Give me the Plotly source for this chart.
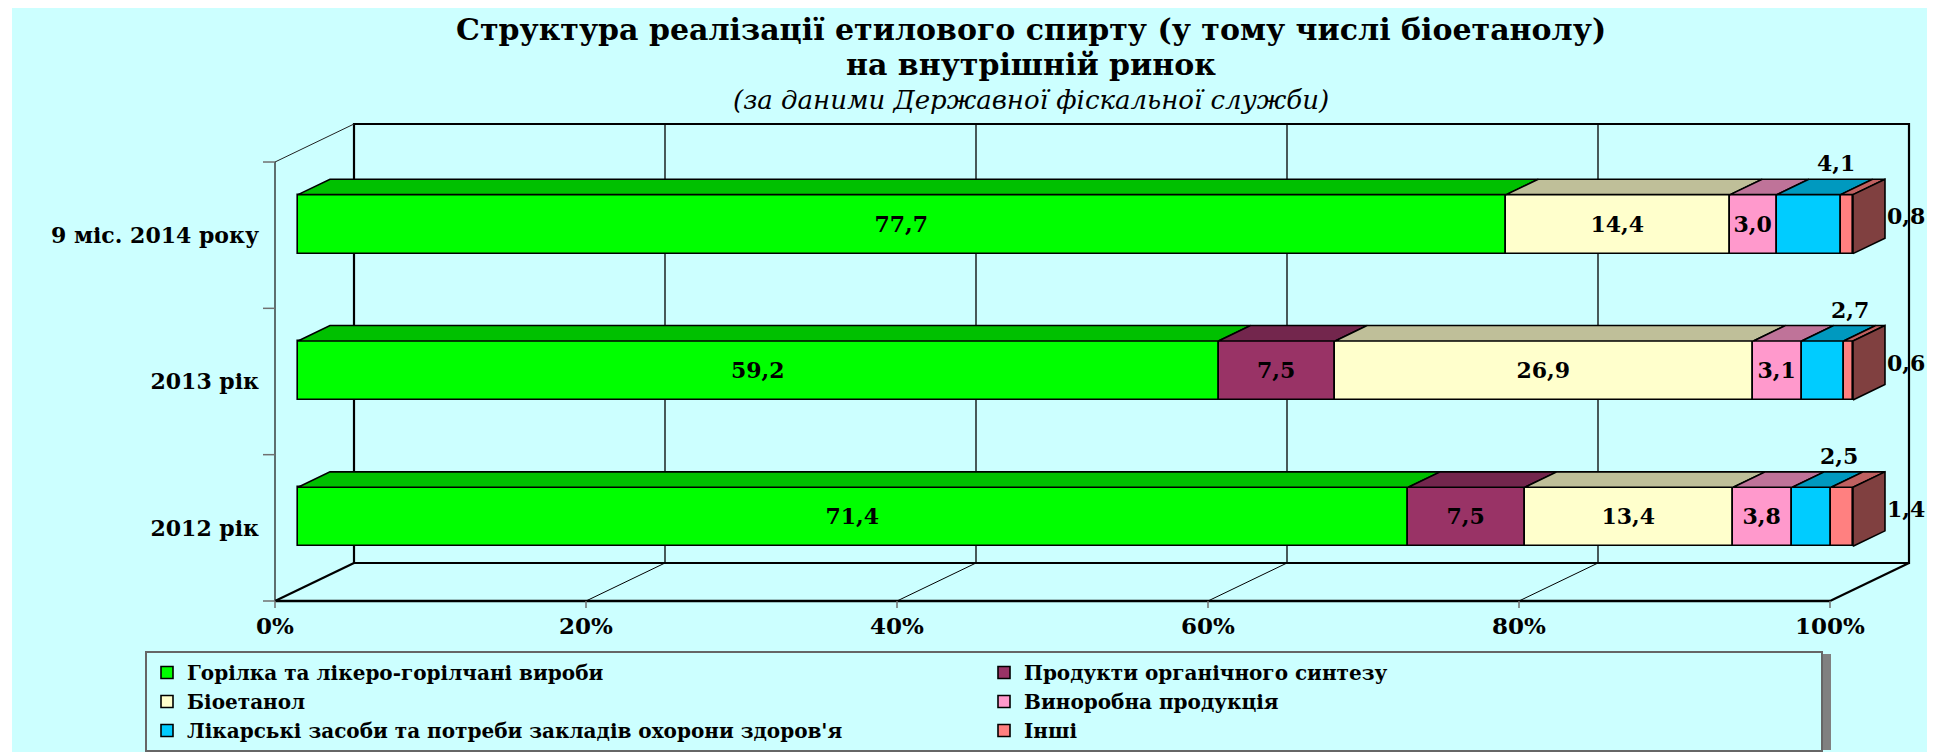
import plotly.graph_objects as go

# ---------------- data ----------------
categories = ["2012 рік", "2013 рік", "9 міс. 2014 року"]
series_names = [
    "Горілка та лікеро-горілчані вироби",
    "Продукти органічного синтезу",
    "Біоетанол",
    "Виноробна продукція",
    "Лікарські засоби та потреби закладів охорони здоров'я",
    "Інші",
]
vodka = [71.4, 59.2, 77.7]
organic = [7.5, 7.5, 0.0]
bioethanol = [13.4, 26.9, 14.4]
wine = [3.8, 3.1, 3.0]
medical = [2.5, 2.7, 4.1]
other = [1.4, 0.6, 0.8]
x_ticks = [0, 20, 40, 60, 80, 100]
x_tick_labels = ["0%", "20%", "40%", "60%", "80%", "100%"]

series_values = [vodka, organic, bioethanol, wine, medical, other]

# ---------------- styles ----------------
front_colors = ["#00FF00", "#993366", "#FFFFCC", "#FF99CC", "#00CCFF", "#FF8080"]
top_colors = ["#00C000", "#73264D", "#BFBF99", "#BF7399", "#0099BF", "#BF6060"]
side_color = "#804040"
bg = "#CCFFFF"
FONT = "DejaVu Serif"
LBL = 22
TICK = 23
CAT = 22

# geometry of the oblique 3-D projection (pixel layout)
W, H = 1939, 752
L, R, T, B = 260, 1930, 115, 610
X0PX, PX_PCT = 275.0, 15.55
Y0PX, PX_UNIT = 601.0, 146.33
DX = 79 / PX_PCT          # depth offset in x units
DY = 38 / PX_UNIT         # depth offset in y units
F0, F1 = 0.291, 0.696     # bar front / back depth fraction
BAR_H = 0.403
xr = [(L - X0PX) / PX_PCT, (R - X0PX) / PX_PCT]
yr = [(Y0PX - B) / PX_UNIT, (Y0PX - T) / PX_UNIT]
ncat = len(categories)


def px_to_paper_x(px):
    return (px - L) / (R - L)


def px_to_paper_y(py):
    return (B - py) / (B - T)


def fmt(v):
    return f"{v:.1f}".replace(".", ",")


fig = go.Figure()

# front faces (bars)
starts = [0.0] * ncat
ycent = [i + 0.5 + F0 * DY for i in range(ncat)]
seg_info = []
for k, (name, vals) in enumerate(zip(series_names, series_values)):
    xs = [v if v > 0 else None for v in vals]
    bases = [s + F0 * DX for s in starts]
    texts = [fmt(v) if (v > 0 and k < 4) else "" for v in vals]
    fig.add_trace(go.Bar(
        y=ycent, x=xs, base=bases, orientation="h", width=BAR_H, name=name,
        marker=dict(color=front_colors[k], line=dict(color="black", width=1.6)),
        text=texts, textposition="inside", insidetextanchor="middle",
        constraintext="none",
        insidetextfont=dict(family=FONT, size=LBL, color="black", weight="bold"),
        hoverinfo="skip",
    ))
    seg_info.append([(s, v) for s, v in zip(starts, vals)])
    starts = [s + v for s, v in zip(starts, vals)]

# top faces
ddx = (F1 - F0) * DX
ddy = (F1 - F0) * DY
for k in range(len(series_names)):
    px_, py_ = [], []
    for i, (s, v) in enumerate(seg_info[k]):
        if v <= 0:
            continue
        x0 = s + F0 * DX
        x1 = s + v + F0 * DX
        yt = ycent[i] + BAR_H / 2
        px_ += [x0, x1, x1 + ddx, x0 + ddx, x0, None]
        py_ += [yt, yt, yt + ddy, yt + ddy, yt, None]
    fig.add_trace(go.Scatter(
        x=px_, y=py_, fill="toself", fillcolor=top_colors[k], mode="lines",
        line=dict(color="black", width=1.6), showlegend=False, hoverinfo="skip"))

# right-hand end faces
px_, py_ = [], []
for i in range(ncat):
    xe = starts[i] + F0 * DX
    yt = ycent[i] + BAR_H / 2
    yb = ycent[i] - BAR_H / 2
    px_ += [xe, xe, xe + ddx, xe + ddx, xe, None]
    py_ += [yb, yt, yt + ddy, yb + ddy, yb, None]
fig.add_trace(go.Scatter(
    x=px_, y=py_, fill="toself", fillcolor=side_color, mode="lines",
    line=dict(color="black", width=1.6), showlegend=False, hoverinfo="skip"))

# outside labels (medical above, other on the right)
annotations = []
for i in range(ncat):
    s, v = seg_info[4][i]
    annotations.append(dict(
        x=s + v / 2 + F1 * DX - 0.3, y=ycent[i] + BAR_H / 2 + ddy + 16 / PX_UNIT,
        xref="x", yref="y", text=fmt(v), showarrow=False, xanchor="center", yanchor="middle",
        font=dict(family=FONT, size=LBL, color="black", weight="bold")))
    s, v = seg_info[5][i]
    annotations.append(dict(
        x=starts[i] + F1 * DX, y=ycent[i] + ddy / 2, xref="x", yref="y", xshift=0,
        text=fmt(v), showarrow=False, xanchor="left", yanchor="middle",
        font=dict(family=FONT, size=LBL, color="black", weight="bold")))

# title lines
title_cx = px_to_paper_x(1031)
annotations += [
    dict(x=title_cx, y=px_to_paper_y(29), xref="paper", yref="paper", showarrow=False,
         text="Структура реалізації етилового спирту (у тому числі біоетанолу)", borderpad=0,
         font=dict(family=FONT, size=30, color="black", weight="bold"), yanchor="middle"),
    dict(x=title_cx, y=px_to_paper_y(64.5), xref="paper", yref="paper", showarrow=False,
         text="на внутрішній ринок", borderpad=0,
         font=dict(family=FONT, size=30, color="black", weight="bold"), yanchor="middle"),
    dict(x=title_cx, y=px_to_paper_y(100.5), xref="paper", yref="paper", showarrow=False,
         text="<i>(за даними Державної фіскальної служби)</i>", borderpad=0,
         font=dict(family=FONT, size=26, color="black"), yanchor="middle"),
]

# ---------------- walls, floor, grid (shapes) ----------------
shapes = []
# cyan chart area background
shapes.append(dict(type="rect", xref="paper", yref="paper", layer="below",
                   x0=px_to_paper_x(12), x1=px_to_paper_x(1927),
                   y0=px_to_paper_y(752), y1=px_to_paper_y(8),
                   fillcolor=bg, line=dict(width=0)))
xmax = x_ticks[-1]
# back wall frame
shapes.append(dict(type="rect", xref="x", yref="y", layer="below",
                   x0=DX, x1=xmax + DX, y0=DY, y1=ncat + DY,
                   line=dict(color="black", width=2.2)))
# back wall gridlines
for t in x_ticks[1:-1]:
    shapes.append(dict(type="line", xref="x", yref="y", layer="below",
                       x0=t + DX, x1=t + DX, y0=DY, y1=ncat + DY,
                       line=dict(color="black", width=1.3)))
# floor diagonals
for t in x_ticks:
    wdt = 2.2 if t in (x_ticks[0], x_ticks[-1]) else 1.0
    shapes.append(dict(type="line", xref="x", yref="y", layer="below",
                       x0=t, x1=t + DX, y0=0, y1=DY, line=dict(color="black", width=wdt)))
# floor front edge
shapes.append(dict(type="line", xref="x", yref="y", layer="below",
                   x0=0, x1=xmax, y0=0, y1=0, line=dict(color="black", width=2.6)))
# left wall
shapes.append(dict(type="line", xref="x", yref="y", layer="below",
                   x0=0, x1=0, y0=0, y1=ncat, line=dict(color="#222222", width=1.3)))
shapes.append(dict(type="line", xref="x", yref="y", layer="below",
                   x0=0, x1=DX, y0=ncat, y1=ncat + DY, line=dict(color="#222222", width=1.0)))
# category tick marks
for j in range(ncat + 1):
    shapes.append(dict(type="line", xref="x", yref="y", layer="below",
                       x0=-12 / PX_PCT, x1=0, y0=j, y1=j, line=dict(color="#707070", width=1.5)))
# value tick marks
for t in x_ticks:
    shapes.append(dict(type="line", xref="x", yref="y", layer="below",
                       x0=t, x1=t, y0=0, y1=-7 / PX_UNIT, line=dict(color="#707070", width=1.5)))
# legend shadow
LEG_TOP = 651
shapes.append(dict(type="rect", xref="paper", yref="paper", layer="below",
                   x0=px_to_paper_x(148), x1=px_to_paper_x(1831),
                   y0=px_to_paper_y(750), y1=px_to_paper_y(LEG_TOP + 3),
                   fillcolor="#808080", line=dict(width=0)))

fig.update_layout(
    width=W, height=H, autosize=False,
    margin=dict(l=L, r=W - R, t=T, b=H - B, pad=0, autoexpand=False),
    paper_bgcolor="white", plot_bgcolor="rgba(0,0,0,0)",
    barmode="overlay", bargap=0,
    showlegend=True,
    legend=dict(orientation="h", x=px_to_paper_x(145), y=px_to_paper_y(LEG_TOP),
                xanchor="left", yanchor="top", bgcolor=bg, bordercolor="#666666",
                borderwidth=2, entrywidth=792, entrywidthmode="pixels",
                font=dict(family=FONT, size=20, color="black", weight="bold"),
                traceorder="normal", itemclick=False),
    xaxis=dict(range=xr, tickvals=x_ticks, ticktext=x_tick_labels, showgrid=False,
               zeroline=False, showline=False, ticks="", fixedrange=True,
               tickfont=dict(family=FONT, size=TICK, color="black", weight="bold")),
    yaxis=dict(range=yr, tickvals=[i + 0.5 for i in range(ncat)], ticktext=categories,
               showgrid=False, zeroline=False, showline=False, ticks="", fixedrange=True,
               tickfont=dict(family=FONT, size=CAT, color="black", weight="bold")),
    shapes=shapes, annotations=annotations,
)

fig.write_html("out.html", config={"displayModeBar": False},
               post_script="document.body.style.margin='0';document.body.style.overflow='hidden';")
